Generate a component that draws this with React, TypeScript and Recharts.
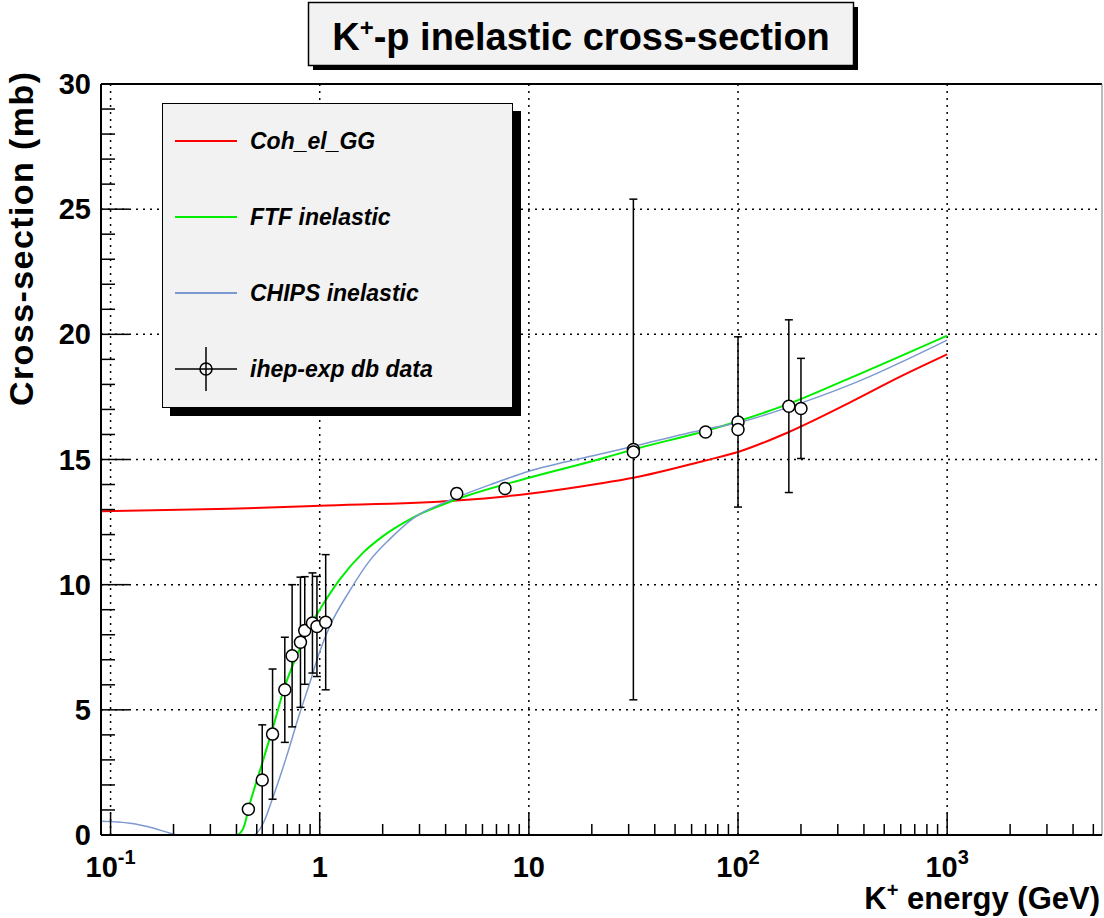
import React from 'react';
import { ComposedChart, Line, Scatter, ErrorBar, XAxis, YAxis, ReferenceLine, Legend } from 'recharts';

const FONT = '"Liberation Sans", Arial, Helvetica, sans-serif';

// Coh_el_GG
const cohX = [0.09, 0.37, 1, 4.5, 10, 21.5, 31.6, 69, 100, 172, 347, 577, 1000];
const cohY = [12.93, 13.03, 13.15, 13.36, 13.63, 14.03, 14.27, 14.95, 15.3, 16.07, 17.3, 18.25, 19.2];

// FTF inelastic
const ftfX = [0.09, 0.4, 0.429, 0.464, 0.537, 0.599, 0.681, 0.774, 0.896, 1, 1.245, 1.608, 2.0, 2.78, 4.48, 10, 21.5, 31.6, 69, 100, 172, 347, 1000];
const ftfY = [0, 0, 0.23, 1.27, 3.0, 4.33, 5.93, 7.13, 8.33, 9.0, 10.2, 11.27, 11.93, 12.67, 13.4, 14.27, 15.0, 15.4, 16.13, 16.53, 17.2, 18.27, 19.95];

// CHIPS inelastic
const chipsX = [0.09, 0.124, 0.161, 0.193, 0.21, 0.482, 0.537, 0.599, 0.694, 0.803, 0.896, 1, 1.116, 1.39, 1.73, 2.15, 2.78, 4.48, 6.93, 10, 21.5, 31.6, 69, 100, 172, 347, 1000];
const chipsY = [0.55, 0.47, 0.27, 0.07, 0, 0, 0.47, 1.53, 3.13, 4.87, 6.07, 7.33, 8.33, 9.75, 10.95, 11.8, 12.63, 13.47, 14.07, 14.53, 15.2, 15.53, 16.2, 16.47, 17.07, 18.0, 19.77];

// ihep-exp db data
const expX = [0.456, 0.531, 0.595, 0.681, 0.738, 0.809, 0.848, 0.923, 0.97, 1.068, 4.52, 7.69, 31.6, 31.6, 70, 100, 100, 175, 200];
const expY = [1.03, 2.2, 4.03, 5.8, 7.16, 7.7, 8.17, 8.47, 8.33, 8.5, 13.64, 13.84, 15.4, 15.3, 16.1, 16.5, 16.2, 17.13, 17.04];
const expErr = [0, 2.2, 2.6, 2.1, 2.84, 2.6, 2.15, 2.0, 2.0, 2.7, 0.2, 0.15, 10.0, 0, 0, 3.4, 0, 3.45, 2.0];

const xMajor = [0.1, 1, 10, 100, 1000];
const xMajorBase = ['10', '1', '10', '10', '10'];
const xMajorExp = ['-1', '', '', '2', '3'];
const xMinorMant = [2, 3, 4, 5, 6, 7, 8, 9];
const yMajor = [0, 5, 10, 15, 20, 25, 30];
const yGrid = [5, 10, 15, 20, 25];

const legendOrder = ['Coh_el_GG', 'FTF inelastic', 'CHIPS inelastic', 'ihep-exp db data'];

const X_MIN = 0.09;
const X_MAX = 5500;

const zip = (xs: number[], ys: number[]) => xs.map((x, i) => ({ x, y: ys[i] }));
const cohData = zip(cohX, cohY);
const ftfData = zip(ftfX, ftfY);
const chipsData = zip(chipsX, chipsY);
const expData = expX.map((x, i) => ({ x, y: expY[i], err: expErr[i] }));

const xTicks: number[] = [];
xMajor.forEach((m) => {
    xTicks.push(m);
    xMinorMant.forEach((k) => {
        if (m * k <= X_MAX) xTicks.push(m * k);
    });
});
const yTicks = Array.from({ length: 31 }, (_, i) => i);

const XTick = (props: any) => {
    const { x, y, payload } = props;
    const idx = xMajor.indexOf(payload.value);
    const major = idx >= 0;
    return (
        <g>
            <line x1={x} x2={x} y1={y} y2={y - (major ? 22 : 11)} stroke="#000" strokeWidth={1.5} />
            {major && (
                <text x={x} y={y + 42} textAnchor="middle" fontFamily={FONT} fontWeight="bold" fontSize={29} fill="#000">
                    <tspan>{xMajorBase[idx]}</tspan>
                    {xMajorExp[idx] && (
                        <tspan fontSize={20} dy={-13}>
                            {xMajorExp[idx]}
                        </tspan>
                    )}
                </text>
            )}
        </g>
    );
};

const YTick = (props: any) => {
    const { x, y, payload } = props;
    const major = yMajor.includes(payload.value);
    return (
        <g>
            <line x1={x} x2={x + (major ? 28 : 14)} y1={y} y2={y} stroke="#000" strokeWidth={1.5} />
            {major && (
                <text x={x - 10} y={y + 10} textAnchor="end" fontFamily={FONT} fontWeight="bold" fontSize={29} fill="#000">
                    {payload.value}
                </text>
            )}
        </g>
    );
};

const Marker = (props: any) => (
    <circle cx={props.cx} cy={props.cy} r={6} fill="#fff" stroke="#000" strokeWidth={1.5} />
);

const LegendBox = ({ payload }: any) => {
    const items = legendOrder
        .map((name) => (payload || []).find((p: any) => p.value === name))
        .filter(Boolean);
    return (
        <div
            style={{
                width: 351,
                height: 305,
                background: '#f2f2f2',
                border: '1.5px solid #000',
                boxShadow: '8px 8px 0 #000',
                boxSizing: 'border-box',
            }}
        >
            <svg width={348} height={302}>
                {items.map((it: any, i: number) => {
                    const cy = 37 + i * 76;
                    const isData = it.value === 'ihep-exp db data';
                    return (
                        <g key={it.value}>
                            {isData ? (
                                <g stroke="#000" strokeWidth={1.5}>
                                    <line x1={12} x2={74} y1={cy} y2={cy} />
                                    <line x1={43} x2={43} y1={cy - 22} y2={cy + 22} />
                                    <circle cx={43} cy={cy} r={6} fill="none" />
                                </g>
                            ) : (
                                <line x1={12} x2={74} y1={cy} y2={cy} stroke={it.color} strokeWidth={2} />
                            )}
                            <text
                                x={87}
                                y={cy + 8}
                                fontFamily={FONT}
                                fontWeight="bold"
                                fontStyle="italic"
                                fontSize={23}
                                fill="#000"
                            >
                                {it.value}
                            </text>
                        </g>
                    );
                })}
            </svg>
        </div>
    );
};

const App = () => {
    return (
        <div style={{ position: 'relative', width: 1104, height: 918, overflow: 'hidden', background: '#fff' }}>
            <style>{'body{margin:0}'}</style>
            <ComposedChart width={1104} height={918} margin={{ top: 84, right: 2, bottom: 0, left: 0 }}>
                <XAxis
                    dataKey="x"
                    type="number"
                    scale="log"
                    domain={[X_MIN, X_MAX]}
                    ticks={xTicks}
                    interval={0}
                    tickSize={0}
                    tickMargin={0}
                    tickLine={false}
                    tick={<XTick />}
                    height={83}
                    axisLine={{ stroke: '#000', strokeWidth: 2 }}
                />
                <YAxis
                    type="number"
                    domain={[0, 30]}
                    ticks={yTicks}
                    interval={0}
                    tickSize={0}
                    tickMargin={0}
                    tickLine={false}
                    tick={<YTick />}
                    width={101}
                    axisLine={{ stroke: '#000', strokeWidth: 2 }}
                />
                {yGrid.map((v) => (
                    <ReferenceLine key={'gy' + v} y={v} stroke="#000" strokeWidth={1.5} strokeDasharray="2 5" />
                ))}
                {xMajor.map((v) => (
                    <ReferenceLine key={'gx' + v} x={v} stroke="#000" strokeWidth={1.5} strokeDasharray="2 5" />
                ))}
                <ReferenceLine y={30} stroke="#000" strokeWidth={2} />
                <ReferenceLine x={X_MAX} stroke="#777" strokeWidth={1} />
                <Line
                    data={cohData}
                    dataKey="y"
                    name="Coh_el_GG"
                    type="monotone"
                    stroke="#ff0000"
                    strokeWidth={2}
                    dot={false}
                    isAnimationActive={false}
                />
                <Line
                    data={ftfData}
                    dataKey="y"
                    name="FTF inelastic"
                    type="monotone"
                    stroke="#00ee00"
                    strokeWidth={2}
                    dot={false}
                    isAnimationActive={false}
                />
                <Line
                    data={chipsData}
                    dataKey="y"
                    name="CHIPS inelastic"
                    type="monotone"
                    stroke="#7d99d1"
                    strokeWidth={1.5}
                    dot={false}
                    isAnimationActive={false}
                />
                <Scatter
                    data={expData}
                    dataKey="y"
                    name="ihep-exp db data"
                    fill="#000"
                    shape={<Marker />}
                    isAnimationActive={false}
                >
                    <ErrorBar dataKey="err" direction="y" width={4} stroke="#000" strokeWidth={1.5} />
                </Scatter>
                <Legend
                    layout="horizontal"
                    verticalAlign="middle"
                    align="center"
                    content={<LegendBox />}
                    wrapperStyle={{ position: 'absolute', left: 162, top: 103, width: 351, height: 305 }}
                />
            </ComposedChart>
            <svg width={1104} height={918} style={{ position: 'absolute', left: 0, top: 0, pointerEvents: 'none' }}>
                <rect x={313} y={7} width={545} height={63} fill="#000" />
                <rect x={308.5} y={2.5} width={545} height={63} fill="#f2f2f2" stroke="#000" strokeWidth={1.5} />
                <text x={581} y={50} textAnchor="middle" fontFamily={FONT} fontWeight="bold" fontSize={38} fill="#000">
                    <tspan>K</tspan>
                    <tspan fontSize={24} dy={-14}>
                        +
                    </tspan>
                    <tspan dy={14}>-p inelastic cross-section</tspan>
                </text>
                <text
                    transform="translate(33,72) rotate(-90)"
                    textAnchor="end"
                    fontFamily={FONT}
                    fontWeight="bold"
                    fontSize={34}
                    textLength={334}
                    lengthAdjust="spacing"
                    fill="#000"
                >
                    Cross-section (mb)
                </text>
                <text x={1100} y={909} textAnchor="end" fontFamily={FONT} fontWeight="bold" fontSize={31} fill="#000">
                    <tspan>K</tspan>
                    <tspan fontSize={20} dy={-12}>
                        +
                    </tspan>
                    <tspan dy={12}> energy (GeV)</tspan>
                </text>
            </svg>
        </div>
    );
};

export default App;
